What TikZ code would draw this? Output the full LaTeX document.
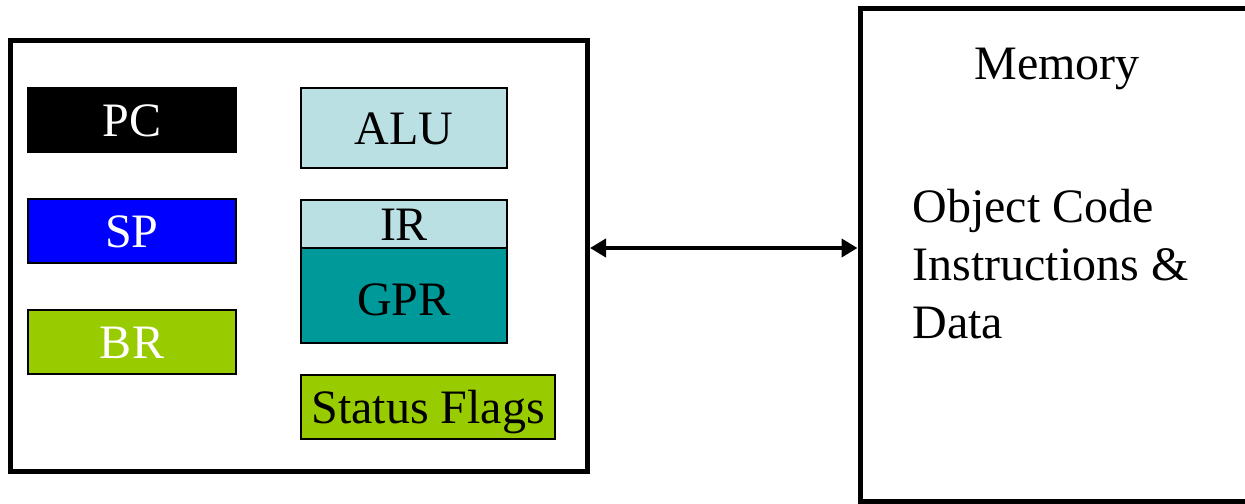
\documentclass[tikz,border=0pt]{standalone}
\usepackage{fontspec}
\setmainfont{Liberation Serif}
\usetikzlibrary{arrows.meta,positioning}
\definecolor{aluBlue}{HTML}{BBE0E3}
\definecolor{gprTeal}{HTML}{009999}
\definecolor{brGreen}{HTML}{99CC00}

\begin{document}
\begin{tikzpicture}[x=0.5pt, y=-0.5pt,
  font=\fontsize{24}{28.8}\selectfont,
  reg/.style={draw, line width=1pt, inner sep=0pt, outer sep=0pt, minimum width=104pt, minimum height=32pt, text height=16pt, text depth=0pt},
  frame/.style={draw, line width=2.5pt, inner sep=0pt},
  arr/.style={{Triangle[length=8pt,width=9pt]}-{Triangle[length=8pt,width=9pt]}, line width=2pt}]
  \useasboundingbox (0,0) rectangle (1245,503);
  \clip (0,0) rectangle (1245,503);
  % frames
  \node[frame, anchor=north west, minimum width=288.5pt, minimum height=215.5pt] (cpu) at (8,38) {};
  \node[frame, anchor=north west, minimum width=201pt, minimum height=246.5pt] (mem) at (857.5,6) {};
  % registers, left column
  \node[reg, fill=black, text=white, anchor=north west] (pc) at (28,88) {PC};
  \node[reg, fill=blue, text=white, below=23.5pt of pc] (sp) {SP};
  \node[reg, fill=brGreen, text=white, below=23.5pt of sp] (br) {BR};
  % right column
  \node[reg, fill=aluBlue, anchor=north west, minimum width=103pt, minimum height=40pt] (alu) at (301,88) {ALU};
  \node[reg, fill=aluBlue, minimum width=103pt, minimum height=24pt, below=16pt of alu] (ir) {IR};
  \node[reg, fill=gprTeal, minimum width=103pt, minimum height=47.5pt, below=0pt of ir, text height=20pt] (gpr) {GPR};
  \node[reg, fill=brGreen, minimum width=127pt, below=16pt of gpr.south west, anchor=north west] (flags) {Status Flags};
  % memory contents
  \node[anchor=base] (memTitle) at (1057,79) {Memory};
  \node[anchor=base west, align=left, inner sep=0pt] (memText) at (912,338) {Object Code\\Instructions \&\\Data};
  \draw[arr] (cpu.east |- ir.south) -- (mem.west |- ir.south);
\end{tikzpicture}
\end{document}
